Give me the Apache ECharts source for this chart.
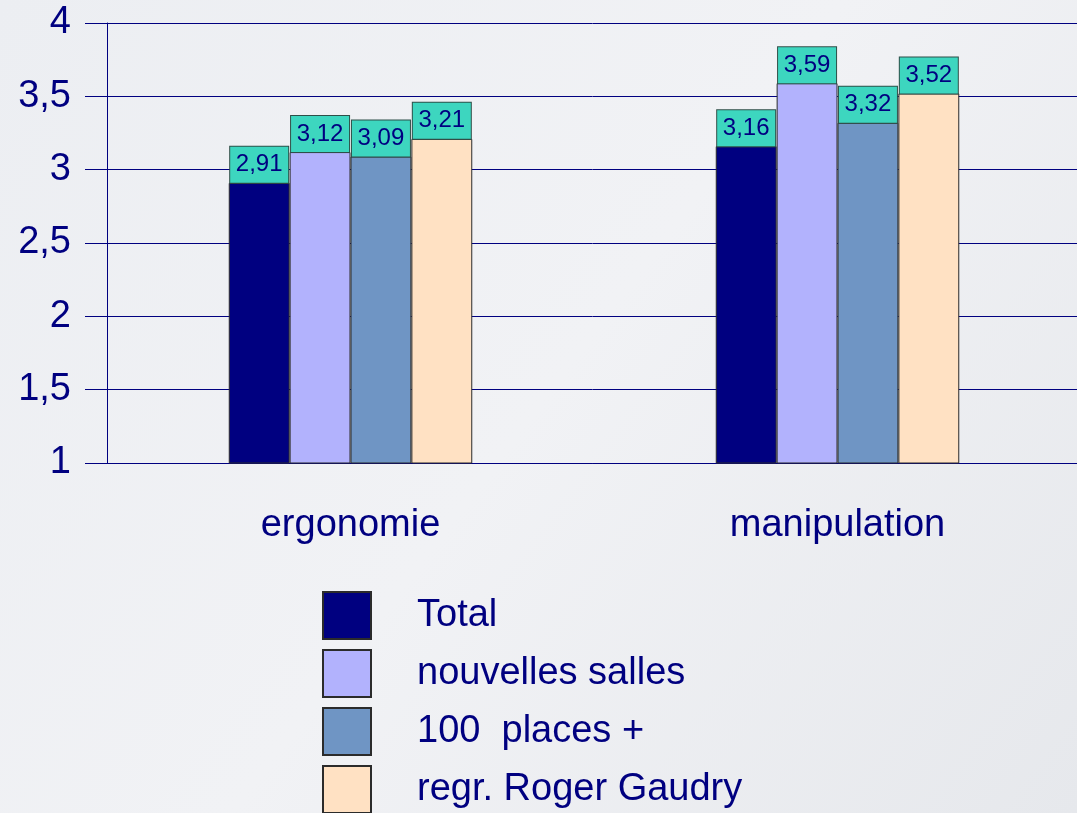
<!DOCTYPE html>
<html>
<head>
<meta charset="utf-8">
<script src="https://cdn.jsdelivr.net/npm/echarts@6/dist/echarts.min.js"></script>
<style>
    html, body { margin: 0; padding: 0; }
    #chart { width: 1077px; height: 813px; }
</style>
</head>
<body>
<div id="chart"></div>
<script>
// données du graphique
let categories = ['ergonomie', 'manipulation'];
let seriesNames = ['Total', 'nouvelles salles', '100  places +', 'regr. Roger Gaudry'];
let totalData = [2.91, 3.16];
let nouvellesData = [3.12, 3.59];
let placesData = [3.09, 3.32];
let gaudryData = [3.21, 3.52];
let yTicks = [1, 1.5, 2, 2.5, 3, 3.5, 4];

let navy = '#000080';
let font = 'Liberation Sans, Arial, sans-serif';

function comma(v) {
    return String(v).replace('.', ',');
}

let dataList = [
    { name: seriesNames[0], data: totalData, color: '#000080' },
    { name: seriesNames[1], data: nouvellesData, color: '#b2b2fd' },
    { name: seriesNames[2], data: placesData, color: '#6f95c4' },
    { name: seriesNames[3], data: gaudryData, color: '#ffe1c3' },
];

let series = [];
dataList.forEach((item) => {
    series.push({
        type: 'bar',
        name: item.name,
        data: item.data,
        barGap: 0,
        barCategoryGap: '50%',
        itemStyle: {
            color: item.color,
            borderColor: '#2b2b2b',
            borderWidth: 1
        },
        label: {
            show: true,
            position: 'top',
            distance: 0,
            formatter: (p) => comma(p.value),
            color: navy,
            fontFamily: font,
            fontSize: 24,
            lineHeight: 24,
            width: 58,
            align: 'center',
            padding: [6, 0, 6, 0],
            backgroundColor: '#3dd6bf',
            borderColor: '#2e4f48',
            borderWidth: 1
        }
    });
});

let option = {
    backgroundColor: new echarts.graphic.LinearGradient(0, 0, 1, 1, [
        { offset: 0, color: '#eceef2' },
        { offset: 0.5, color: '#f1f2f5' },
        { offset: 1, color: '#e6e8ec' }
    ]),
    animation: false,
    legend: {
        orient: 'vertical',
        left: 322,
        top: 591,
        height: 300,
        padding: 0,
        icon: 'rect',
        itemWidth: 48,
        itemHeight: 47,
        itemGap: 9,
        data: seriesNames,
        textStyle: {
            color: navy,
            fontFamily: font,
            fontSize: 38,
            lineHeight: 47,
            padding: [0, 0, 0, 41]
        }
    },
    grid: {
        left: 107,
        top: 23,
        width: 974,
        height: 440,
        outerBoundsMode: 'none'
    },
    xAxis: {
        type: 'category',
        data: categories,
        axisLine: { lineStyle: { color: navy, width: 1 } },
        axisTick: {
            alignWithLabel: true,
            length: 23,
            lineStyle: { color: navy }
        },
        axisLabel: {
            color: navy,
            fontFamily: font,
            fontSize: 38,
            margin: 44
        }
    },
    yAxis: {
        type: 'value',
        min: yTicks[0],
        max: yTicks[yTicks.length - 1],
        interval: 0.5,
        axisLine: { show: true, lineStyle: { color: navy, width: 1 } },
        axisTick: {
            show: true,
            length: 22,
            lineStyle: { color: navy }
        },
        splitLine: { lineStyle: { color: navy, width: 1 } },
        axisLabel: {
            color: navy,
            fontFamily: font,
            fontSize: 38,
            margin: 36,
            formatter: (v) => comma(v)
        }
    },
    series: series
};

let chart = echarts.init(document.getElementById('chart'));
chart.setOption(option);
window.addEventListener('resize', function () {
    chart.resize();
});
</script>
</body>
</html>
